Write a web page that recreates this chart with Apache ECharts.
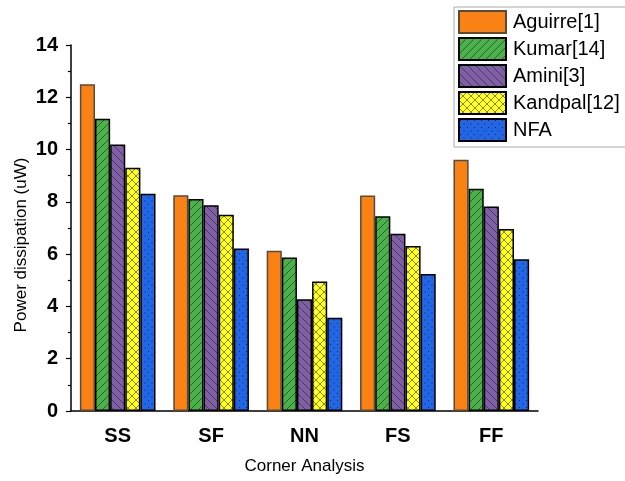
<!DOCTYPE html>
<html>
<head>
<meta charset="utf-8">
<script src="https://cdn.jsdelivr.net/npm/echarts@6/dist/echarts.min.js"></script>
<style>
  html, body { margin: 0; padding: 0; background: #fff; }
  #chart { width: 625px; height: 481px; }
</style>
</head>
<body>
<div id="chart"></div>
<script>
// values
const categories = ['SS', 'SF', 'NN', 'FS', 'FF'];
const seriesNames = ['Aguirre[1]', 'Kumar[14]', 'Amini[3]', 'Kandpal[12]', 'NFA'];
const aguirre = [12.5, 8.25, 6.13, 8.24, 9.61];
const kumar   = [11.18, 8.11, 5.87, 7.45, 8.5];
const amini   = [10.19, 7.87, 4.27, 6.78, 7.82];
const kandpal = [9.3, 7.51, 4.95, 6.31, 6.96];
const nfa     = [8.31, 6.22, 3.57, 5.24, 5.8];
const yTicks  = [0, 2, 4, 6, 8, 10, 12, 14];

const FONT = 'Arial, "Liberation Sans", sans-serif';

// hatch fills like the origin plot
function makePattern(bg, kind) {
  const c = document.createElement('canvas');
  const s = kind === 'dots' ? 7 : 8;
  c.width = s; c.height = s;
  const ctx = c.getContext('2d');
  ctx.fillStyle = bg;
  ctx.fillRect(0, 0, s, s);
  ctx.strokeStyle = 'rgba(20,20,20,0.85)';
  ctx.fillStyle = 'rgba(20,20,20,0.8)';
  ctx.lineWidth = 0.6;
  const fwd = () => {
    ctx.beginPath();
    ctx.moveTo(-1, s + 1); ctx.lineTo(s + 1, -1);
    ctx.moveTo(-1, 1); ctx.lineTo(1, -1);
    ctx.moveTo(s - 1, s + 1); ctx.lineTo(s + 1, s - 1);
    ctx.stroke();
  };
  const back = () => {
    ctx.beginPath();
    ctx.moveTo(-1, -1); ctx.lineTo(s + 1, s + 1);
    ctx.moveTo(s - 1, -1); ctx.lineTo(s + 1, 1);
    ctx.moveTo(-1, s - 1); ctx.lineTo(1, s + 1);
    ctx.stroke();
  };
  if (kind === 'fwd') fwd();
  if (kind === 'back') back();
  if (kind === 'cross') { fwd(); back(); }
  if (kind === 'dots') {
    ctx.fillRect(1, 1, 1, 1);
    ctx.fillRect(4.5, 4.5, 1, 1);
  }
  return { image: c, repeat: 'repeat' };
}

const fills = [
  '#FA8214',
  makePattern('#4BB14B', 'fwd'),
  makePattern('#7F5FA5', 'back'),
  makePattern('#FFFF22', 'cross'),
  makePattern('#2166E6', 'dots')
];
const borders = ['#5a4a3a', '#000', '#000', '#000', '#000'];
const values = [aguirre, kumar, amini, kandpal, nfa];

const myChart = echarts.init(document.getElementById('chart'));

let option = {
  animation: false,
  grid: { left: 71, right: 87, top: 45, bottom: 70 },
  legend: {
    left: 454,
    top: 7,
    orient: 'vertical',
    itemWidth: 47,
    itemHeight: 22,
    itemGap: 3,
    padding: [3, 40, 5, 4],
    backgroundColor: '#fff',
    borderColor: '#aaa',
    borderWidth: 1,
    icon: 'rect',
    textStyle: { fontFamily: FONT, fontSize: 20, color: '#000', padding: [0, 0, 0, 2] },
    data: seriesNames
  },
  xAxis: [
    {
      type: 'category',
      data: categories,
      name: 'Corner Analysis',
      nameLocation: 'middle',
      nameGap: 47,
      nameTextStyle: { fontFamily: FONT, fontSize: 17, color: '#000' },
      axisLine: { lineStyle: { color: '#000', width: 1.5 } },
      axisTick: { alignWithLabel: true, length: 6, lineStyle: { color: '#000', width: 1.2 } },
      axisLabel: { margin: 15, fontFamily: FONT, fontSize: 20, fontWeight: 'bold', color: '#000' }
    },
    {
      type: 'category',
      data: categories,
      position: 'bottom',
      axisLine: { show: false },
      axisTick: { length: 3, lineStyle: { color: '#000', width: 1.2 } },
      axisLabel: { show: false }
    }
  ],
  yAxis: {
    type: 'value',
    min: yTicks[0],
    max: yTicks[yTicks.length - 1],
    interval: 2,
    splitLine: { show: false },
    axisLine: { show: true, lineStyle: { color: '#000', width: 1.5 } },
    axisTick: { show: true, length: 5, lineStyle: { color: '#000', width: 1.2 } },
    minorTick: { show: true, splitNumber: 2, length: 3, lineStyle: { color: '#000', width: 1.2 } },
    axisLabel: { margin: 13, fontFamily: FONT, fontSize: 20, fontWeight: 'bold', color: '#000' }
  },
  graphic: [
    {
      type: 'text',
      x: 21,
      y: 245,
      rotation: Math.PI / 2,
      style: {
        text: 'Power dissipation (uW)',
        fontFamily: FONT,
        fontSize: 17,
        fill: '#000',
        align: 'center',
        verticalAlign: 'middle'
      }
    }
  ],
  series: seriesNames.map((name, i) => ({
    type: 'bar',
    name: name,
    xAxisIndex: 0,
    data: values[i],
    barGap: '0%',
    barCategoryGap: '19%',
    itemStyle: { color: fills[i], borderColor: borders[i], borderWidth: 1.5 }
  }))
};
option && myChart.setOption(option);
</script>
</body>
</html>
